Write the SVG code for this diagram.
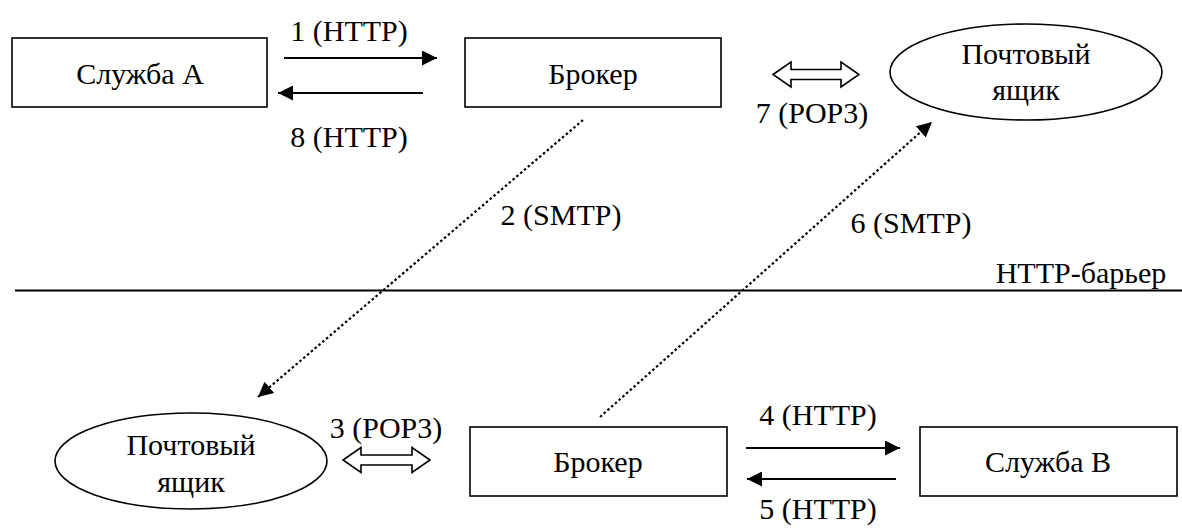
<svg xmlns="http://www.w3.org/2000/svg" width="1182" height="530" viewBox="0 0 1182 530">
<style>
text{font-family:"Liberation Serif",Tinos,"Times New Roman","DejaVu Serif","Noto Serif",serif;font-size:30px;fill:#000;text-anchor:middle}
.box{fill:#fff;stroke:#000;stroke-width:1.6}
.solid{stroke:#000;stroke-width:1.8;fill:none}
.dot{stroke:#000;stroke-width:2.2;stroke-dasharray:2.5 2.5;fill:none}
.dbl{fill:#fff;stroke:#000;stroke-width:1.6;stroke-linejoin:miter}
</style>
<defs>
<marker id="ah" viewBox="0 0 15 15" refX="15" refY="7.5" markerWidth="15" markerHeight="15" markerUnits="userSpaceOnUse" orient="auto">
<path d="M0,0 L15,7.5 L0,15 Z" fill="#000"/>
</marker>
</defs>
<rect width="1182" height="530" fill="#fff"/>
<g id="serviceA"><rect class="box" x="12" y="38" width="255" height="69"/><text x="140" y="84" font-family="Liberation Serif, serif">Служба A</text></g>
<g id="brokerTop"><rect class="box" x="465" y="38" width="256" height="69"/><text x="593" y="84" font-family="Liberation Serif, serif">Брокер</text></g>
<g id="mailboxTop"><ellipse class="box" cx="1026" cy="72" rx="136" ry="48"/><text x="1026" y="64" font-family="Liberation Serif, serif">Почтовый</text><text x="1026" y="100" font-family="Liberation Serif, serif">ящик</text></g>
<g id="mailboxBottom"><ellipse class="box" cx="191" cy="461" rx="136" ry="48"/><text x="191" y="455" font-family="Liberation Serif, serif">Почтовый</text><text x="191" y="492" font-family="Liberation Serif, serif">ящик</text></g>
<g id="brokerBottom"><rect class="box" x="470" y="427" width="257" height="69"/><text x="598" y="472" font-family="Liberation Serif, serif">Брокер</text></g>
<g id="serviceB"><rect class="box" x="920" y="427" width="257" height="69"/><text x="1048" y="472" font-family="Liberation Serif, serif">Служба B</text></g>
<g id="barrier"><line x1="15" y1="290.5" x2="1182" y2="290.5" stroke="#000" stroke-width="2"/><text x="1081" y="283" font-family="Liberation Serif, serif">HTTP-барьер</text></g>
<g id="connectors">
<line class="solid" x1="284" y1="58" x2="437" y2="58" marker-end="url(#ah)"/>
<line class="solid" x1="423" y1="93" x2="278" y2="93" marker-end="url(#ah)"/>
<line class="solid" x1="746" y1="448" x2="900" y2="448" marker-end="url(#ah)"/>
<line class="solid" x1="896" y1="479" x2="747" y2="479" marker-end="url(#ah)"/>
<line class="dot" x1="583" y1="120" x2="258" y2="397" marker-end="url(#ah)"/>
<line class="dot" x1="600" y1="417" x2="932" y2="122" marker-end="url(#ah)"/>
<path class="dbl" d="M773,74.5 L791,62 L791,69.5 L841,69.5 L841,62 L859,74.5 L841,87 L841,79.5 L791,79.5 L791,87 Z"/>
<path class="dbl" d="M343,460 L361,447.5 L361,455 L412,455 L412,447.5 L430,460 L412,472.5 L412,465 L361,465 L361,472.5 Z"/>
</g>
<g id="labels" font-family="Liberation Serif, serif">
<text x="349" y="41" font-family="Liberation Serif, serif">1 (HTTP)</text>
<text x="349" y="147" font-family="Liberation Serif, serif">8 (HTTP)</text>
<text x="561" y="225" font-family="Liberation Serif, serif">2 (SMTP)</text>
<text x="386" y="438" font-family="Liberation Serif, serif">3 (POP3)</text>
<text x="818" y="425" font-family="Liberation Serif, serif">4 (HTTP)</text>
<text x="818" y="519" font-family="Liberation Serif, serif">5 (HTTP)</text>
<text x="911" y="233" font-family="Liberation Serif, serif">6 (SMTP)</text>
<text x="812" y="123" font-family="Liberation Serif, serif">7 (POP3)</text>
</g>
</svg>
